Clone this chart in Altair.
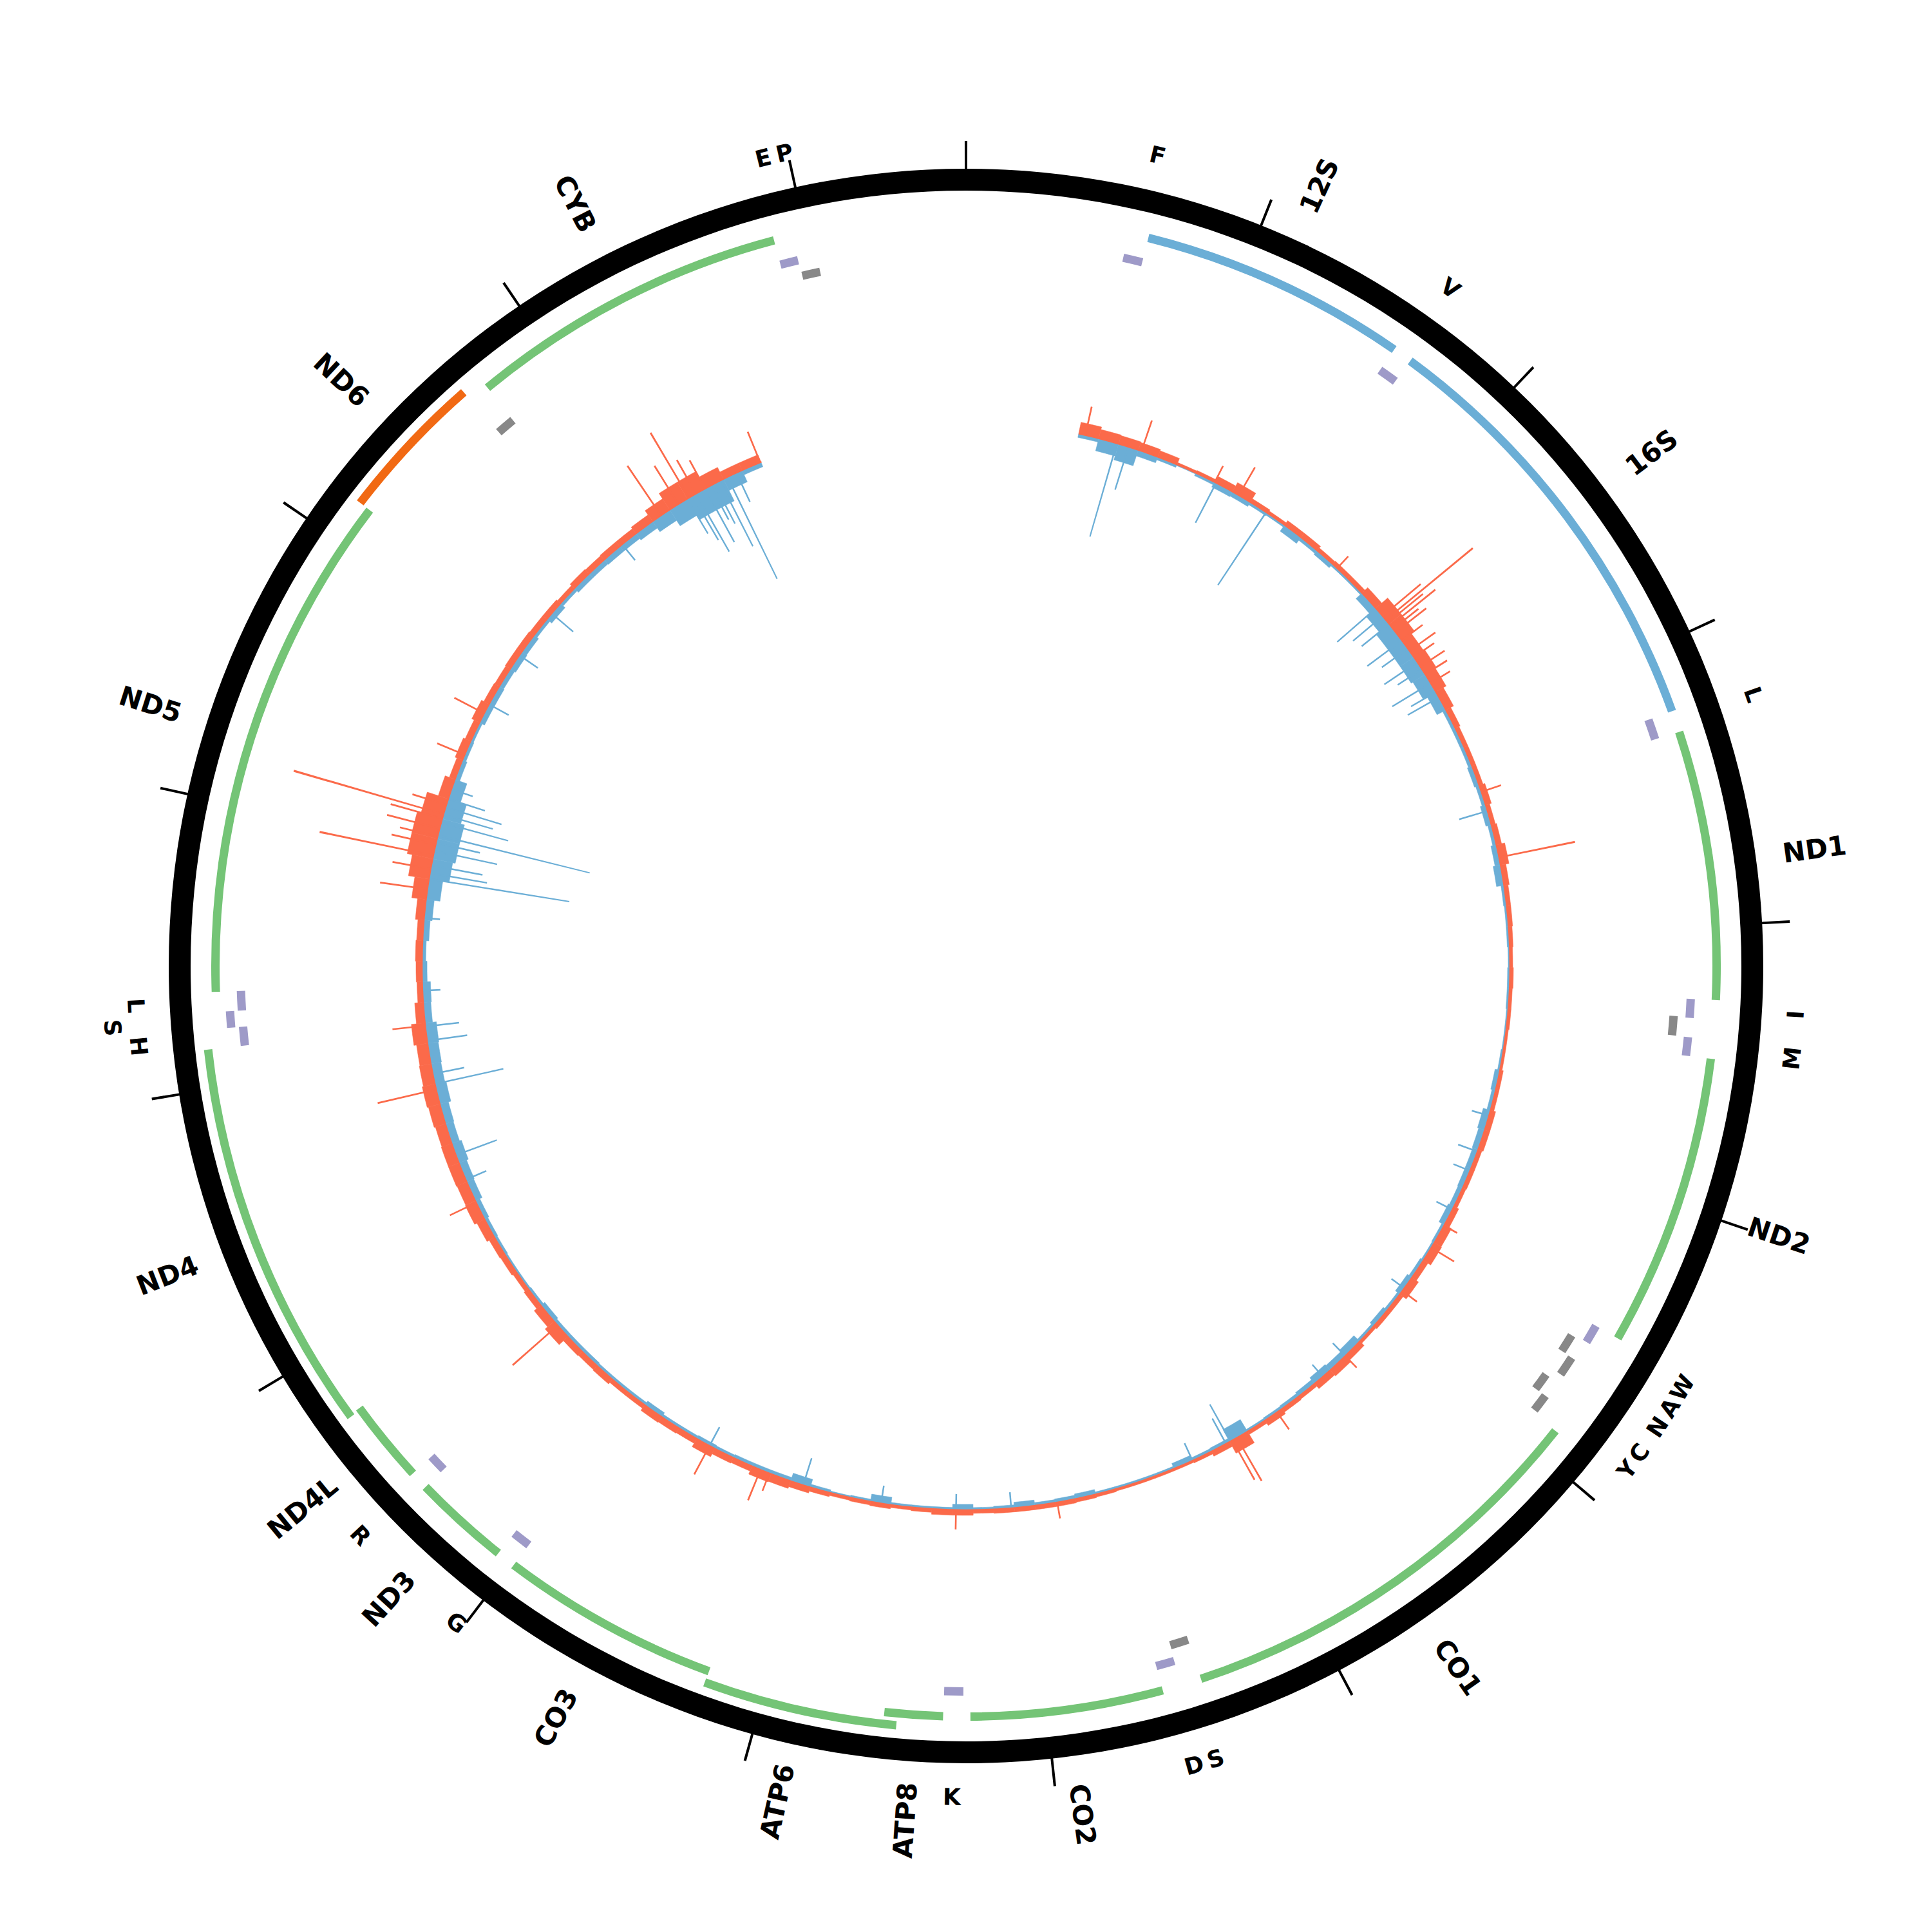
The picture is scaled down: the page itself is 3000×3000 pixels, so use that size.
import math
import altair as alt
import pandas as pd

GENOME = 16569
TAU = 2 * math.pi

# ---------------- annotation (rCRS style) ----------------
feat_name = ["F", "12S", "V", "16S", "L", "ND1", "I", "Q", "M", "ND2", "W", "A", "N", "C", "Y",
             "CO1", "S", "D", "CO2", "K", "ATP8", "ATP6", "CO3", "G", "ND3", "R", "ND4L", "ND4",
             "H", "S", "L", "ND5", "ND6", "E", "CYB", "T", "P"]
feat_start = [577, 648, 1602, 1671, 3230, 3307, 4263, 4329, 4402, 4470, 5512, 5587, 5657, 5761, 5826,
              5904, 7446, 7518, 7586, 8295, 8366, 8527, 9207, 9991, 10059, 10405, 10470, 10760,
              12138, 12207, 12266, 12337, 14149, 14674, 14747, 15888, 15956]
feat_end = [647, 1601, 1670, 3229, 3304, 4262, 4331, 4400, 4469, 5511, 5579, 5655, 5729, 5826, 5891,
            7445, 7514, 7585, 8269, 8364, 8572, 9207, 9990, 10058, 10404, 10469, 10766, 12137,
            12206, 12265, 12336, 14148, 14673, 14742, 15887, 15953, 16023]
feat_kind = ["trna", "rrna", "trna", "rrna", "trna", "cds", "trna", "trna", "trna", "cds", "trna", "trna", "trna", "trna", "trna",
             "cds", "trna", "trna", "cds", "trna", "cds", "cds", "cds", "trna", "cds", "trna", "cds", "cds",
             "trna", "trna", "trna", "cds", "cds", "trna", "cds", "trna", "trna"]
feat_strand = ["+", "+", "+", "+", "+", "+", "+", "-", "+", "+", "+", "-", "-", "-", "-",
               "+", "-", "+", "+", "+", "+", "+", "+", "+", "+", "+", "+", "+",
               "+", "+", "+", "+", "-", "-", "+", "+", "-"]
feat_row = [0, 0, 0, 0, 0, 0, 0, 0, 0, 0, 0, 0, 1, 0, 1,
            0, 0, 0, 0, 0, 0, 1, 0, 0, 0, 0, 0, 1,
            0, 1, 0, 0, 1, 0, 0, 0, 0]
feat_label = ["F", "12S", "V", "16S", "L", "ND1", "I", "", "M", "ND2", "W", "A", "N", "C", "Y",
              "CO1", "S", "D", "CO2", "K", "ATP8", "ATP6", "CO3", "G", "ND3", "R", "ND4L", "ND4",
              "H", "S", "L", "ND5", "ND6", "", "CYB", "E", "P"]
label_level = [0, 0, 0, 0, 0, 0, 0, 0, 0, 0, 0, 0, 0, 0, 0,
               0, 0, 0, 0, 0, 0, 0, 0, 0, 0, 0, 0, 0,
               0, 1, 0, 0, 0, 0, 0, 0, 0]

# ---------------- coverage (100 bp bins) ----------------
COV_START = 550
COV_END = 15553
BIN = 100
cov_fwd = [18, 14, 13, 12, 10, 3, 4, 10, 16, 6,
           4, 8, 8, 5, 6, 6, 12, 24, 24, 18,
           20, 18, 13, 8, 6, 6, 6, 9, 6, 8,
           13, 8, 6, 6, 5, 4, 5, 4, 4, 3,
           3, 5, 5, 8, 8, 6, 6, 5, 8, 12,
           13, 8, 12, 6, 6, 4, 9, 12, 10, 5,
           6, 9, 5, 20, 8, 4, 3, 3, 3, 3,
           4, 5, 6, 6, 6, 6, 5, 8, 8, 5,
           4, 6, 5, 4, 6, 9, 12, 13, 8, 9,
           14, 8, 9, 10, 6, 6, 9, 8, 9, 18,
           13, 8, 6, 8, 9, 13, 17, 16, 17, 17,
           16, 18, 20, 18, 17, 21, 13, 8, 9, 10,
           9, 13, 22, 32, 40, 40, 34, 16, 9, 12,
           9, 13, 9, 8, 9, 9, 8, 8, 6, 9,
           8, 9, 9, 12, 20, 30, 30, 20, 12, 12]
cov_rev = [6, 20, 26, 10, 5, 2, 5, 9, 8, 5,
           4, 12, 6, 8, 4, 4, 13, 20, 26, 26,
           26, 23, 16, 6, 6, 6, 8, 6, 9, 6,
           9, 12, 5, 4, 4, 3, 4, 4, 3, 3,
           4, 8, 6, 12, 10, 9, 9, 8, 10, 5,
           4, 6, 9, 5, 8, 5, 13, 10, 12, 8,
           6, 5, 4, 22, 6, 5, 9, 4, 4, 4,
           4, 8, 6, 5, 9, 5, 4, 9, 4, 4,
           4, 12, 4, 3, 5, 13, 6, 6, 6, 5,
           6, 5, 5, 8, 5, 5, 5, 6, 6, 6,
           8, 5, 4, 4, 5, 6, 8, 12, 13, 16,
           13, 14, 18, 16, 17, 18, 12, 13, 8, 6,
           10, 13, 22, 32, 36, 36, 30, 20, 8, 6,
           5, 9, 9, 8, 10, 9, 6, 10, 6, 9,
           9, 10, 10, 13, 20, 30, 38, 38, 20, 8]

# isolated tall peaks
fwd_peak_pos = [583, 866, 1252, 1385, 1980, 2300, 2324, 2340, 2360, 2380, 2400, 2450, 2513, 2550, 2606,
                2650, 2700, 3283, 3612, 5455, 5578, 5830, 6250, 6679, 6910, 6935, 7840, 8333, 9260,
                9306, 9579, 10523, 11240, 11823, 12137, 12800, 12900, 12966, 13020, 13060, 13100,
                13150, 13172, 13220, 13478, 13700, 15000, 15100, 15160, 15200, 15250, 15546]
fwd_peak_h = [45, 50, 28, 50, 25, 77, 175, 70, 89, 50, 60, 40, 49, 38, 45,
              40, 35, 32, 120, 23, 41, 28, 25, 32, 77, 70, 25, 30, 29,
              51, 50, 93, 45, 93, 51, 74, 60, 180, 70, 60, 84,
              83, 242, 55, 46, 52, 93, 70, 117, 60, 50, 51]
rev_peak_pos = [741, 800, 1260, 1541, 2250, 2300, 2350, 2450, 2500, 2580, 2620, 2700, 2750, 2780, 3380,
                4877, 5060, 5160, 5367, 5814, 6250, 6398, 6946, 6970, 7152, 8065, 8333, 8698, 9086,
                9579, 11362, 11490, 11850, 11900, 12063, 12133, 12307, 12660, 12851, 12880, 12918,
                12990, 13030, 13067, 13131, 13170, 13207, 13250, 13300, 13750, 14030, 14286, 14765,
                15150, 15180, 15200, 15250, 15280, 15300, 15330, 15372, 15420]
rev_peak_h = [151, 70, 70, 136, 80, 60, 55, 67, 50, 62, 45, 70, 45, 56, 46,
              28, 32, 28, 28, 25, 28, 25, 66, 45, 30, 25, 25, 28, 44,
              33, 35, 68, 109, 50, 63, 53, 28, 25, 221, 90, 81,
              100, 70, 243, 108, 80, 91, 60, 35, 35, 35, 44, 32,
              63, 80, 104, 95, 60, 70, 114, 176, 50]

tick_pos = list(range(0, 16001, 1000))

# ---------------- styles ----------------
RED = "#fb6a4a"
BLUE = "#6baed6"
COLORS = {"cds+": "#74c476", "rrna+": "#6baed6", "trna+": "#9e9ac8", "cds-": "#f16913", "trna-": "#888888"}
FONT = "DejaVu Sans"
BASE_R = 845
RING_OUT, RING_IN = 1238, 1204
TICK_OUT = 1281
TRACK_R = {"gene": 1165.5, "trna+": 1126.5, "trna-": 1101.5}
ROW_STEP = 18.5
HALF = 6.5
GENE_LABEL_R = 1330
TRNA_LABEL_R = 1292
TRNA_LABEL_STEP = 38

theta_scale = alt.Scale(domain=[0, GENOME], range=[0, TAU])
rad_scale = alt.Scale(type="linear", domain=[-250, 250], range=[BASE_R - 250, BASE_R + 250], nice=False)

# ---------------- tables ----------------
feat = pd.DataFrame(dict(name=feat_name, start=feat_start, end=feat_end, kind=feat_kind,
                         strand=feat_strand, row=feat_row, label=feat_label, level=label_level))
feat["s0"] = feat["start"] - 1
feat["cat"] = feat["kind"] + feat["strand"]
feat["track"] = [("trna" + s) if k == "trna" else "gene" for k, s in zip(feat["kind"], feat["strand"])]

bins_s = [COV_START + BIN * i for i in range(len(cov_fwd))]
cov = pd.DataFrame({"s": bins_s, "e": [min(b + BIN, COV_END) for b in bins_s], "fwd": cov_fwd, "rev": cov_rev})
fpk = pd.DataFrame({"p": fwd_peak_pos, "h": fwd_peak_h})
rpk = pd.DataFrame({"p": rev_peak_pos, "h": rev_peak_h})

color_enc = alt.Color("cat:N", scale=alt.Scale(domain=list(COLORS.keys()), range=list(COLORS.values())), legend=None)

layers = []

# coverage bodies
layers.append(
    alt.Chart(cov).transform_calculate(zero="0").mark_arc(color=RED, stroke=RED, strokeWidth=0.6).encode(
        theta=alt.Theta("s:Q", scale=theta_scale), theta2="e:Q",
        radius=alt.Radius("fwd:Q", scale=rad_scale), radius2="zero:Q")
)
layers.append(
    alt.Chart(cov).transform_calculate(zero="0", neg="-datum.rev").mark_arc(color=BLUE, stroke=BLUE, strokeWidth=0.6).encode(
        theta=alt.Theta("s:Q", scale=theta_scale), theta2="e:Q",
        radius=alt.Radius("zero:Q", scale=rad_scale), radius2="neg:Q")
)
# peaks
layers.append(
    alt.Chart(fpk).transform_calculate(zero="0", a="datum.p - 4", b="datum.p + 4").mark_arc(color=RED).encode(
        theta=alt.Theta("a:Q", scale=theta_scale), theta2="b:Q",
        radius=alt.Radius("h:Q", scale=rad_scale), radius2="zero:Q")
)
layers.append(
    alt.Chart(rpk).transform_calculate(zero="0", neg="-datum.h", a="datum.p - 4", b="datum.p + 4").mark_arc(color=BLUE).encode(
        theta=alt.Theta("a:Q", scale=theta_scale), theta2="b:Q",
        radius=alt.Radius("zero:Q", scale=rad_scale), radius2="neg:Q")
)
# baseline
base_df = pd.DataFrame({"s": [COV_START], "e": [COV_END]})
layers.append(
    alt.Chart(base_df).mark_arc(color=RED, radius=BASE_R + 1.3, radius2=BASE_R - 1.3).encode(
        theta=alt.Theta("s:Q", scale=theta_scale), theta2="e:Q")
)

# outer ring
ring_df = pd.DataFrame({"s": [0], "e": [GENOME]})
layers.append(
    alt.Chart(ring_df).mark_arc(color="black", radius=RING_OUT, radius2=RING_IN).encode(
        theta=alt.Theta("s:Q", scale=theta_scale), theta2="e:Q")
)
# ticks
tick_df = pd.DataFrame({"p": tick_pos})
layers.append(
    alt.Chart(tick_df).transform_calculate(a="datum.p - 4.2", b="datum.p + 4.2").mark_arc(
        color="black", radius=TICK_OUT, radius2=RING_OUT - 2).encode(
        theta=alt.Theta("a:Q", scale=theta_scale), theta2="b:Q")
)

# features
for track, rc in TRACK_R.items():
    for row in (0, 1):
        sub = feat[(feat["track"] == track) & (feat["row"] == row)]
        if len(sub) == 0:
            continue
        r = rc + ROW_STEP * row
        layers.append(
            alt.Chart(sub).mark_arc(radius=r + HALF, radius2=r - HALF).encode(
                theta=alt.Theta("s0:Q", scale=theta_scale), theta2="end:Q", color=color_enc)
        )

# gene labels (radial)
genes = feat[feat["kind"] != "trna"]
layers.append(
    alt.Chart(genes).transform_calculate(
        mid="(datum.start + datum.end) / 2",
        deg="(datum.start + datum.end) / 2 / %d * 360" % GENOME,
    ).transform_calculate(
        rot="((datum.deg < 180 ? datum.deg - 90 : datum.deg + 90) % 360 + 360) % 360"
    ).mark_text(radius=GENE_LABEL_R, font=FONT, fontSize=42, fontWeight="bold", align="center",
                baseline="middle", color="black").encode(
        theta=alt.Theta("mid:Q", scale=theta_scale, stack=False),
        angle=alt.Angle("rot:Q", scale=None),
        text="label:N")
)
# tRNA labels (tangential)
for lvl in (0, 1):
    sub = feat[(feat["kind"] == "trna") & (feat["label"] != "") & (feat["level"] == lvl)]
    if len(sub) == 0:
        continue
    layers.append(
        alt.Chart(sub).transform_calculate(
            mid="(datum.start + datum.end) / 2",
            deg="(datum.start + datum.end) / 2 / %d * 360" % GENOME,
        ).transform_calculate(
            rot="(((datum.deg > 90 && datum.deg < 270) ? datum.deg - 180 : datum.deg) % 360 + 360) % 360"
        ).mark_text(radius=TRNA_LABEL_R + TRNA_LABEL_STEP * lvl, font=FONT, fontSize=36, fontWeight="bold",
                    align="center", baseline="middle", color="black").encode(
            theta=alt.Theta("mid:Q", scale=theta_scale, stack=False),
            angle=alt.Angle("rot:Q", scale=None),
            text="label:N")
    )

chart = alt.layer(*layers).properties(
    width=2984, height=2984, padding=0,
    autosize=alt.AutoSizeParams(type="none"),
    background="white",
).configure_view(stroke=None)

chart.save("out.html", embed_options={"renderer": "svg", "actions": False})
